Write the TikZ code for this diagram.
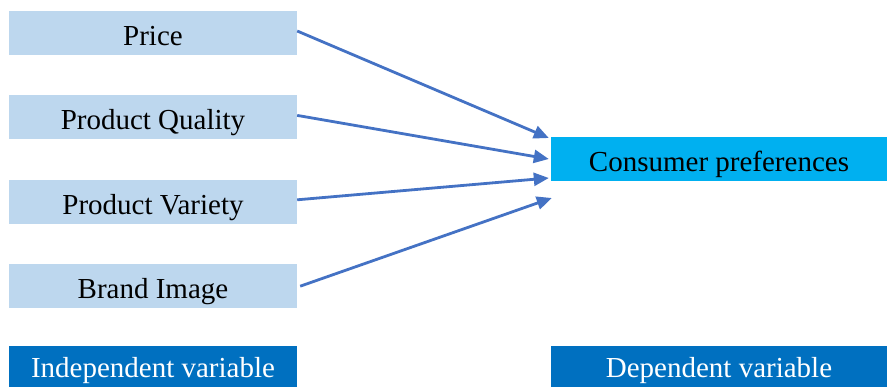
\documentclass[tikz,border=0pt]{standalone}
\usepackage{fontspec}
\setmainfont{LiberationSerif}[Extension=.ttf, UprightFont=*-Regular, BoldFont=*-Bold]
\usetikzlibrary{arrows.meta,positioning}

\definecolor{lightbox}{HTML}{BDD7EE}
\definecolor{cyanbox}{HTML}{00B0F0}
\definecolor{darkbox}{HTML}{0070C0}
\definecolor{arrowblue}{HTML}{4472C4}

\begin{document}
\begin{tikzpicture}[
  x=1pt, y=-1pt,
  font=\rmfamily\fontsize{29}{34}\selectfont,
  link/.style={-{Triangle[length=15pt,width=13pt]}, line width=2.8pt, draw=arrowblue},
  factor/.style={
    fill=lightbox,
    minimum width=288pt,
    minimum height=44pt,
    inner sep=0pt,
    text height=25pt,
    text depth=0pt,
    align=center
  },
  outcome/.style={
    fill=cyanbox,
    minimum width=336pt,
    minimum height=44pt,
    inner sep=0pt,
    text height=25pt,
    text depth=0pt,
    align=center
  },
  legend/.style={
    fill=darkbox,
    text=white,
    minimum height=50pt,
    inner sep=0pt,
    align=center
  }
]
\clip (0,0) rectangle (887,386);

% Independent factors.
\node[factor] (price) at (153,33) {Price};
\node[factor, below=40pt of price] (quality) {Product Quality};
\node[factor, below=40pt of quality] (variety) {Product Variety};
\node[factor, below=40pt of variety] (brand) {Brand Image};

% Dependent factor.
\node[outcome] (cons) at (719,159) {Consumer preferences};

% Legend boxes.
\node[legend, minimum width=288pt] (indep) at (153,371) {Independent variable};
\node[legend, minimum width=336pt] (dep) at (719,371) {Dependent variable};

\draw[link] ([yshift=2pt]price.east) -- ([xshift=-2pt,yshift=21pt]cons.west);
\draw[link] ([yshift=2pt]quality.east) -- ([xshift=-2pt]cons.west);
\draw[link] ([yshift=2pt]variety.east) -- ([xshift=-2pt,yshift=-19pt]cons.west);
\draw[link] ([xshift=3pt]brand.east) -- ([xshift=1pt,yshift=-39pt]cons.west);

\end{tikzpicture}
\end{document}
